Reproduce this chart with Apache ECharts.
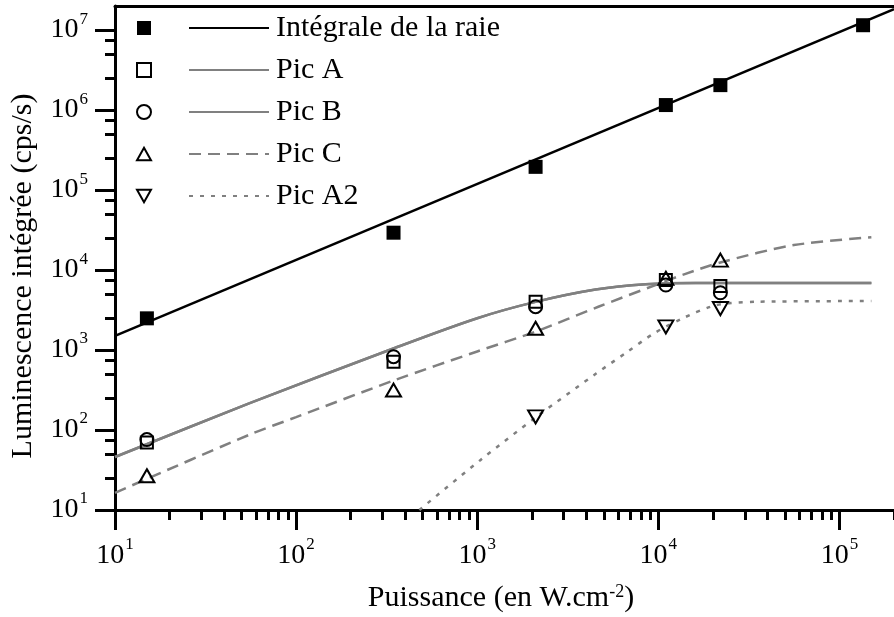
<!DOCTYPE html>
<html>
<head>
<meta charset="utf-8">
<script src="https://cdn.jsdelivr.net/npm/echarts@6/dist/echarts.min.js"></script>
<style>html,body{margin:0;padding:0;background:#fff}#c{width:894px;height:617px}</style>
</head>
<body>
<div id="c"></div>
<script>
// ---- axis ranges & ticks ----
const xRange = [10, 200000];
const yRange = [10, 20000000];
const xMajorTicks = [10, 100, 1000, 10000, 100000];
const yMajorTicks = [10, 100, 1000, 10000, 100000, 1000000, 10000000];
const xMinorSteps = [2, 3, 4, 5, 6, 7, 8, 9];
const yMinorSteps = [2.5, 5, 7.5];

// ---- measured points ----
const ptsIntegrale = [[15, 2490], [345, 29300], [2100, 195000], [11000, 1155000], [22000, 2050000], [135000, 11500000]];
const ptsPicA = [[15, 70], [345, 714], [2100, 4020], [11000, 7500], [22000, 6300]];
const ptsPicB = [[15, 76], [345, 825], [2100, 3480], [11000, 6500], [22000, 5200]];
const ptsPicC = [[15, 26.8], [345, 316], [2100, 1870], [11000, 7900], [22000, 13300]];
const ptsPicA2 = [[2100, 146], [11000, 1950], [22000, 3300]];

// ---- fitted curves ----
const fitIntegrale = [[10, 1500], [200000, 18300000]];
const fitPicAB = [[10, 46], [55, 215], [350, 1060], [1000, 2500], [2100, 4000], [4500, 5700], [8500, 6650], [16000, 6900], [150000, 6900]];
const fitPicC = [[10, 16.4], [55, 87], [100, 145], [350, 420], [1000, 960], [2100, 1700], [4700, 3500], [10000, 6700], [14000, 8900], [22500, 12600], [56000, 20500], [150000, 25700]];
const fitPicA2 = [[479, 10], [1040, 42], [2130, 147], [4550, 511], [6640, 925], [9480, 1620], [13600, 2490], [19400, 3480], [24400, 3840], [35600, 4020], [150000, 4100]];

const legendNames = ['Intégrale de la raie', 'Pic A', 'Pic B', 'Pic C', 'Pic A2'];
const xTitle = 'Puissance (en W.cm{s|-2})';
const yTitle = 'Luminescence intégrée (cps/s)';

// minor tick values
const xMinorTicks = [];
xMajorTicks.forEach(d => xMinorSteps.forEach(k => { const v = d * k; if (v <= xRange[1]) xMinorTicks.push(v); }));
const yMinorTicks = [];
yMajorTicks.forEach(d => yMinorSteps.forEach(k => { const v = d * k; if (v <= yRange[1]) yMinorTicks.push(v); }));

const FONT = "'Liberation Serif', 'Times New Roman', serif";
const GRAY = '#808080';
const supRich = {
  b: { fontFamily: FONT, fontSize: 28, color: '#000' },
  s: { fontFamily: FONT, fontSize: 17, color: '#000', verticalAlign: 'top', padding: [0, 0, 22, 1] }
};
function powLabel(v) { return '{b|10}{s|' + Math.round(Math.log10(v)) + '}'; }

const axisLineStyle = { color: '#000', width: 3 };
const hollow = { color: 'rgba(0,0,0,0)', borderColor: '#000', borderWidth: 2, opacity: 1 };

const chart = echarts.init(document.getElementById('c'), null, { renderer: 'canvas' });
const option = {
  animation: false,
  backgroundColor: '#fff',
  grid: { left: 115, top: 6, bottom: 107, right: -6, containLabel: false },
  xAxis: [
    { type: 'log', position: 'bottom', min: xRange[0], max: xRange[1],
      axisLine: { show: true, lineStyle: axisLineStyle },
      axisTick: { show: true, length: 20, lineStyle: { color: '#000', width: 3 }, customValues: xMajorTicks },
      axisLabel: { show: true, margin: 26, formatter: powLabel, rich: supRich, customValues: xMajorTicks },
      splitLine: { show: false }, minorTick: { show: false } },
    { type: 'log', position: 'bottom', min: xRange[0], max: xRange[1],
      axisLine: { show: false },
      axisTick: { show: true, length: 10, lineStyle: { color: '#000', width: 3 }, customValues: xMinorTicks },
      axisLabel: { show: false }, splitLine: { show: false } },
    { type: 'log', position: 'top', min: xRange[0], max: xRange[1],
      axisLine: { show: true, lineStyle: axisLineStyle },
      axisTick: { show: false }, axisLabel: { show: false }, splitLine: { show: false } }
  ],
  yAxis: [
    { type: 'log', position: 'left', min: yRange[0], max: yRange[1],
      axisLine: { show: true, lineStyle: axisLineStyle },
      axisTick: { show: true, length: 20, lineStyle: { color: '#000', width: 3 }, customValues: yMajorTicks },
      axisLabel: { show: true, margin: 27, formatter: powLabel, rich: supRich, customValues: yMajorTicks },
      splitLine: { show: false } },
    { type: 'log', position: 'left', min: yRange[0], max: yRange[1],
      axisLine: { show: false },
      axisTick: { show: true, length: 10, lineStyle: { color: '#000', width: 3 }, customValues: yMinorTicks },
      axisLabel: { show: false }, splitLine: { show: false } }
  ],
  legend: [
    { orient: 'vertical', left: 136, top: 13, padding: 0, itemGap: 12, itemWidth: 14, itemHeight: 14,
      data: ['m0', 'm1', 'm2', 'm3', 'm4'], formatter: () => ' ', selectedMode: false,
      textStyle: { fontFamily: FONT, fontSize: 30, lineHeight: 30, color: '#000' } },
    { orient: 'vertical', left: 188, top: 13, padding: 0, itemGap: 12, itemWidth: 80, itemHeight: 14,
      data: legendNames, selectedMode: false,
      itemStyle: { color: 'rgba(0,0,0,0)', borderColor: 'rgba(0,0,0,0)', borderWidth: 0 },
      textStyle: { fontFamily: FONT, fontSize: 30, lineHeight: 30, color: '#000', padding: [0, 0, 0, 2] } }
  ],
  graphic: [
    { type: 'text', x: 501, y: 598, z: 10,
      style: { text: xTitle, fontFamily: FONT, fontSize: 30, fill: '#000', align: 'center', verticalAlign: 'middle',
        rich: { s: { fontFamily: FONT, fontSize: 18, fill: '#000', verticalAlign: 'top', padding: [0, 0, 12, 0] } } } },
    { type: 'text', x: 23, y: 276, rotation: Math.PI / 2, z: 10,
      style: { text: yTitle, fontFamily: FONT, fontSize: 30, fill: '#000', align: 'center', verticalAlign: 'middle' } }
  ],
  series: [
    { name: legendNames[0], type: 'line', data: fitIntegrale, symbol: 'none', z: 2,
      lineStyle: { color: '#000', width: 2.5 }, itemStyle: { color: '#000' } },
    { name: legendNames[1], type: 'line', data: fitPicAB, symbol: 'none', smooth: 0.3, z: 2,
      lineStyle: { color: GRAY, width: 2.5 }, itemStyle: { color: GRAY } },
    { name: legendNames[2], type: 'line', data: fitPicAB, symbol: 'none', smooth: 0.3, z: 2,
      lineStyle: { color: GRAY, width: 2.5 }, itemStyle: { color: GRAY } },
    { name: legendNames[3], type: 'line', data: fitPicC, symbol: 'none', smooth: 0.3, z: 2,
      lineStyle: { color: GRAY, width: 2.5, type: [12, 7] }, itemStyle: { color: GRAY } },
    { name: legendNames[4], type: 'line', data: fitPicA2, symbol: 'none', smooth: 0.3, z: 2,
      lineStyle: { color: GRAY, width: 2.5, type: [4, 7] }, itemStyle: { color: GRAY } },
    { name: 'm0', type: 'scatter', data: ptsIntegrale, symbol: 'rect', symbolSize: 14, z: 3,
      itemStyle: { color: '#000', borderColor: '#000', borderWidth: 0, opacity: 1 } },
    { name: 'm1', type: 'scatter', data: ptsPicA, symbol: 'rect', symbolSize: 12, z: 3, itemStyle: hollow },
    { name: 'm2', type: 'scatter', data: ptsPicB, symbol: 'circle', symbolSize: 13, z: 3, itemStyle: hollow },
    { name: 'm3', type: 'scatter', data: ptsPicC, symbol: 'path://M5,0 L10,9 L0,9 Z', symbolSize: [15, 13], z: 3, itemStyle: hollow },
    { name: 'm4', type: 'scatter', data: ptsPicA2, symbol: 'path://M0,0 L10,0 L5,9 Z', symbolSize: [15, 13], z: 3, itemStyle: hollow }
  ]
};
chart.setOption(option);
</script>
</body>
</html>
